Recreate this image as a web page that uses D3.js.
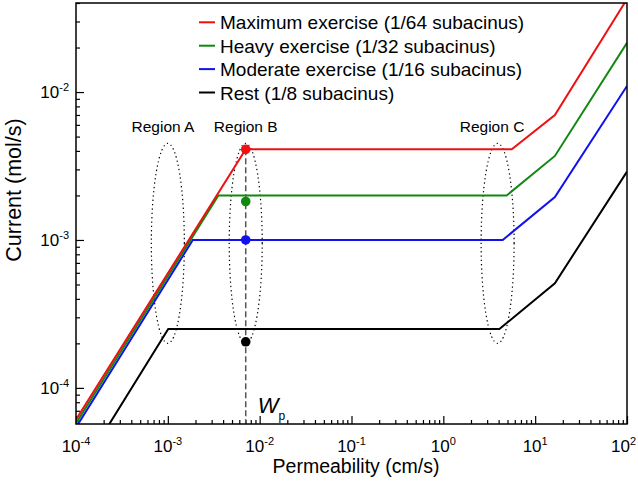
<!DOCTYPE html>
<html><head><meta charset="utf-8">
<script src="https://cdn.jsdelivr.net/npm/d3@7"></script>
<style>body{margin:0;background:#fff}svg{display:block}text{font-family:"Liberation Sans",Arial,sans-serif}</style>
</head><body><svg id="c" width="638" height="487"></svg>
<script>
const xTicks = [1e-4, 1e-3, 1e-2, 1e-1, 1, 10, 100];
const xTickExp = ["-4", "-3", "-2", "-1", "0", "1", "2"];
const yTicks = [1e-4, 1e-3, 1e-2];
const yTickExp = ["-4", "-3", "-2"];
const seriesNames = ["Maximum exercise (1/64 subacinus)", "Heavy exercise (1/32 subacinus)", "Moderate exercise (1/16 subacinus)", "Rest (1/8 subacinus)"];
const seriesColors = ["#ee1111", "#118811", "#1111ee", "#000000"];
const maxX = [1e-4, 7.05e-3, 5.56, 16.4, 100];
const maxY = [6.1e-5, 4.1e-3, 4.1e-3, 7.0e-3, 4.25e-2];
const heavyX = [1e-4, 3.55e-3, 4.9, 16.4, 100];
const heavyY = [5.75e-5, 2.0e-3, 2.0e-3, 3.7e-3, 2.15e-2];
const modX = [1e-4, 1.87e-3, 4.43, 16.4, 100];
const modY = [5.4e-5, 1.0e-3, 1.0e-3, 1.95e-3, 1.1e-2];
const restX = [2e-4, 1.01e-3, 4.08, 16.4, 100];
const restY = [4.94e-5, 2.5e-4, 2.5e-4, 5.1e-4, 2.9e-3];
const wp = 7.05e-3;
const dotY = [4.1e-3, 1.82e-3, 1.0e-3, 2.05e-4];
const regionLabels = ["Region A", "Region B", "Region C"];
const regionLabelX = [8.85e-4, 7.05e-3, 3.39];
const regionEllipseX = [1.0e-3, 7.05e-3, 3.9];
const ellipseYTop = 4.5e-3, ellipseYBottom = 2.0e-4;

const W = 638;
const L = 76, R = 627, T = 3, B = 424;
const x = d3.scaleLog().domain([1e-4, 100]).range([L, R]);
const y = d3.scaleLog().domain([5.7e-5, 0.04]).range([B, T]);
const svg = d3.select("#c");

svg.append("defs").append("clipPath").attr("id", "clip")
  .append("rect").attr("x", L).attr("y", T).attr("width", R - L).attr("height", B - T);

const xMinor = [];
for (let e = -4; e < 2; e++) for (let m = 2; m <= 9; m++) xMinor.push(m * Math.pow(10, e));
const yMinor = [];
for (let e = -5; e < -1; e++) for (let m = 2; m <= 9; m++) { const v = m * Math.pow(10, e); if (v >= 5.7e-5 && v <= 0.04) yMinor.push(v); }

const gx = svg.append("g").attr("transform", `translate(0,${B})`).call(d3.axisBottom(x).tickValues(xTicks).tickSizeInner(-8).tickSizeOuter(0).tickFormat(""));
const gxm = svg.append("g").attr("transform", `translate(0,${B})`).call(d3.axisBottom(x).tickValues(xMinor).tickSizeInner(-4).tickSizeOuter(0).tickFormat(""));
const gy = svg.append("g").attr("transform", `translate(${L},0)`).call(d3.axisLeft(y).tickValues(yTicks).tickSizeInner(-8).tickSizeOuter(0).tickFormat(""));
const gym = svg.append("g").attr("transform", `translate(${L},0)`).call(d3.axisLeft(y).tickValues(yMinor).tickSizeInner(-4).tickSizeOuter(0).tickFormat(""));
[gx, gxm, gy, gym].forEach(g => { g.select(".domain").remove(); g.selectAll("line").attr("stroke", "#000").attr("stroke-width", 1.2); });

xTicks.forEach((v, i) => {
  const last = i === xTicks.length - 1;
  const t = svg.append("text").attr("x", last ? W - 2 : x(v)).attr("y", B + 28)
    .attr("text-anchor", last ? "end" : "middle").attr("font-size", 17);
  t.append("tspan").text("10");
  t.append("tspan").attr("dy", -7).attr("font-size", 11).text(xTickExp[i]);
});
yTicks.forEach((v, i) => {
  const t = svg.append("text").attr("x", L - 7).attr("y", y(v) + 6).attr("text-anchor", "end").attr("font-size", 17);
  t.append("tspan").text("10");
  t.append("tspan").attr("dy", -7).attr("font-size", 11).text(yTickExp[i]);
});

svg.append("text").attr("x", 356).attr("y", 473).attr("text-anchor", "middle").attr("font-size", 19.5).text("Permeability (cm/s)");
svg.append("text").attr("transform", `translate(21,190) rotate(-90)`).attr("text-anchor", "middle").attr("font-size", 21.5).text("Current (mol/s)");

const gE = svg.append("g");
regionEllipseX.forEach((v, i) => {
  const cy = (y(ellipseYTop) + y(ellipseYBottom)) / 2, ry = (y(ellipseYBottom) - y(ellipseYTop)) / 2;
  gE.append("ellipse").attr("cx", x(v)).attr("cy", cy).attr("rx", 16.5).attr("ry", ry)
    .attr("fill", "none").attr("stroke", "#000").attr("stroke-width", 1.2).attr("stroke-dasharray", "1.3,3");
  svg.append("text").attr("x", x(regionLabelX[i])).attr("y", y(ellipseYTop) - 11).attr("text-anchor", "middle").attr("font-size", 15.5).text(regionLabels[i]);
});

svg.append("line").attr("x1", x(wp)).attr("x2", x(wp)).attr("y1", y(dotY[0])).attr("y2", B)
  .attr("stroke", "#555").attr("stroke-width", 1.5).attr("stroke-dasharray", "6,3");
const wt = svg.append("text").attr("x", x(wp) + 12).attr("y", 413).attr("font-size", 22).attr("font-style", "italic");
wt.append("tspan").text("W");
wt.append("tspan").attr("dy", 7).attr("font-size", 12).attr("font-style", "normal").text("p");

const seriesX = [maxX, heavyX, modX, restX];
const seriesY = [maxY, heavyY, modY, restY];
const line = d3.line().x(d => x(d[0])).y(d => y(d[1]));
const gL = svg.append("g").attr("clip-path", "url(#clip)");
for (let s = 3; s >= 0; s--) {
  const pts = seriesX[s].map((v, i) => [v, seriesY[s][i]]);
  gL.append("path").attr("d", line(pts)).attr("fill", "none").attr("stroke", seriesColors[s]).attr("stroke-width", 2).attr("stroke-linejoin", "miter");
}
dotY.forEach((v, i) => {
  svg.append("circle").attr("cx", x(wp)).attr("cy", y(v)).attr("r", 4.8).attr("fill", seriesColors[i]);
});

seriesNames.forEach((n, i) => {
  const cy = 22.3 + i * 23.4;
  svg.append("line").attr("x1", 199).attr("x2", 215).attr("y1", cy).attr("y2", cy).attr("stroke", seriesColors[i]).attr("stroke-width", 2);
  svg.append("text").attr("x", 220).attr("y", cy + 7).attr("font-size", 19).text(n);
});

svg.append("rect").attr("x", L).attr("y", T).attr("width", R - L).attr("height", B - T)
  .attr("fill", "none").attr("stroke", "#000").attr("stroke-width", 1.5);
</script></body></html>
